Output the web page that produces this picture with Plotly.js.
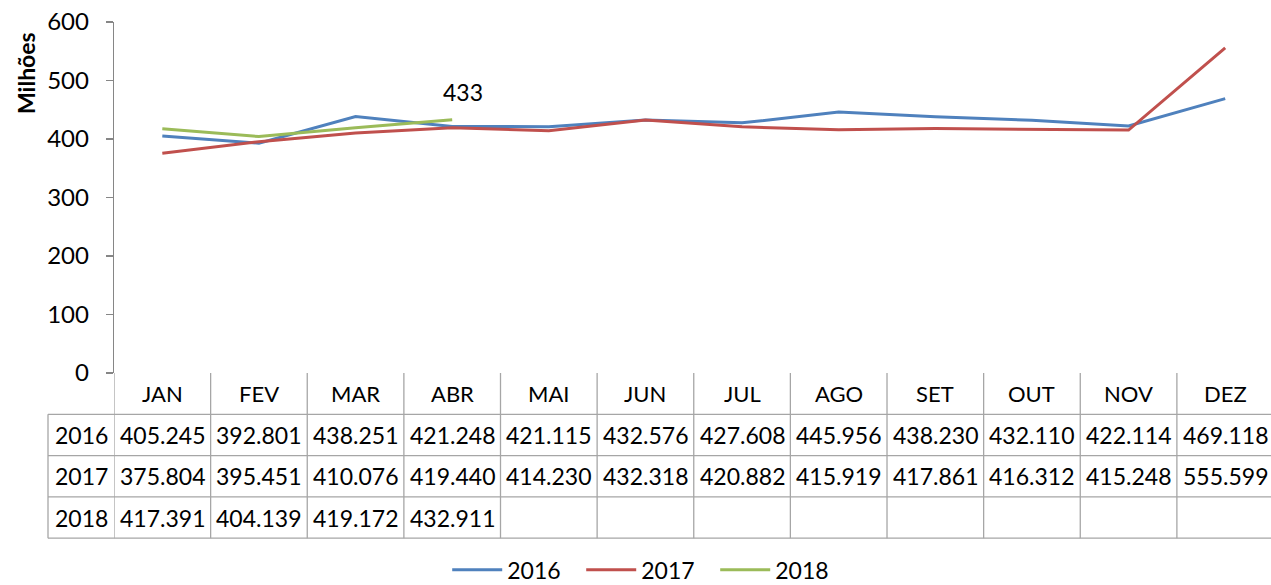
<!DOCTYPE html>
<html>
<head>
<meta charset="utf-8">
<script src="https://cdn.plot.ly/plotly-3.0.1.min.js"></script>
<style>html,body{margin:0;padding:0;background:#fff;}#chart{width:1271px;height:585px;}</style>
</head>
<body>
<div id="chart"></div>
<script>
const months = ["JAN","FEV","MAR","ABR","MAI","JUN","JUL","AGO","SET","OUT","NOV","DEZ"];
const seriesNames = ["2016","2017","2018"];
const values2016 = [405.245,392.801,438.251,421.248,421.115,432.576,427.608,445.956,438.230,432.110,422.114,469.118];
const values2017 = [375.804,395.451,410.076,419.440,414.230,432.318,420.882,415.919,417.861,416.312,415.248,555.599];
const values2018 = [417.391,404.139,419.172,432.911];
const colors = ["#4F81BD","#C0504D","#9BBB59"];
const yTitle = "Milhões";

const FONT = "Lato, 'Open Sans', sans-serif";
const FS = 23;
const allValues = [values2016, values2017, values2018];

const traces = allValues.map((vals, k) => ({
  type: "scatter",
  mode: "lines",
  name: seriesNames[k],
  x: months.slice(0, vals.length),
  y: vals,
  line: {color: colors[k], width: 3},
  hoverinfo: "x+y+name"
}));

const rowH = 41.3 / 351;
const gridColor = "#A6A6A6";
const leftEdge = -66 / 1157;
const shapes = [];
const annotations = [];
const rowBottom = r => -(r + 1) * rowH;
const tableBottom = rowBottom(3);

for (let r = 0; r < 4; r++) {
  shapes.push({type: "line", xref: "paper", yref: "paper", x0: leftEdge, x1: 1.01, y0: rowBottom(r), y1: rowBottom(r), line: {color: gridColor, width: 1.3}});
}
shapes.push({type: "line", xref: "paper", yref: "paper", x0: leftEdge, x1: leftEdge, y0: rowBottom(0), y1: tableBottom, line: {color: gridColor, width: 1.3}});
for (let i = 0; i <= months.length; i++) {
  shapes.push({type: "line", xref: "x", yref: "paper", x0: i - 0.5, x1: i - 0.5, y0: 0, y1: tableBottom, line: {color: gridColor, width: 1.3}});
}
months.forEach((m, i) => {
  annotations.push({xref: "x", yref: "paper", x: i, y: -0.5 * rowH, text: m, showarrow: false, font: {family: FONT, size: FS - 1, color: "#000"}, xanchor: "center", yanchor: "middle"});
});
allValues.forEach((vals, k) => {
  const yc = -(k + 1.5) * rowH;
  annotations.push({xref: "paper", yref: "paper", x: leftEdge / 2, y: yc, text: seriesNames[k], showarrow: false, font: {family: FONT, size: FS, color: "#000"}, xanchor: "center", yanchor: "middle"});
  vals.forEach((v, i) => {
    annotations.push({xref: "x", yref: "paper", x: i, y: yc, text: v.toFixed(3), showarrow: false, font: {family: FONT, size: FS, color: "#000"}, xanchor: "center", yanchor: "middle"});
  });
});
const lastIdx = values2018.length - 1;
annotations.push({xref: "x", yref: "y", x: months[lastIdx], y: values2018[lastIdx], text: String(Math.round(values2018[lastIdx])), showarrow: false, xshift: 11, yshift: 28, font: {family: FONT, size: FS, color: "#000"}});
annotations.push({xref: "paper", yref: "paper", x: -88 / 1157, y: 300 / 351, text: "<b>" + yTitle + "</b>", textangle: -90, showarrow: false, xanchor: "center", yanchor: "middle", font: {family: FONT, size: 23, color: "#000"}});

const layout = {
  width: 1271, height: 585,
  margin: {l: 114, r: 0, t: 22, b: 212, pad: 0},
  paper_bgcolor: "#fff", plot_bgcolor: "#fff",
  font: {family: FONT, size: FS, color: "#000"},
  showlegend: true,
  legend: {orientation: "h", xref: "container", yref: "container", x: 0.51, xanchor: "center", y: 0.026, yanchor: "middle", font: {family: FONT, size: FS, color: "#000"}, entrywidth: 69, entrywidthmode: "pixels", itemwidth: 50},
  xaxis: {
    type: "category", range: [-0.5, 11.474], showticklabels: false, showgrid: false, zeroline: false,
    showline: false, ticks: "", fixedrange: true
  },
  yaxis: {
    range: [0, 600], dtick: 100, tick0: 0, showgrid: false, zeroline: false,
    showline: true, linecolor: "#868686", linewidth: 1.3, ticks: "outside", ticklen: 7, tickcolor: "#868686", tickwidth: 1.3,
    tickfont: {family: FONT, size: FS + 1, color: "#000"},
    ticklabelstandoff: 12,
    fixedrange: true
  },
  shapes: shapes,
  annotations: annotations
};

Plotly.newPlot("chart", traces, layout, {displayModeBar: false, staticPlot: true});
</script>
</body>
</html>
